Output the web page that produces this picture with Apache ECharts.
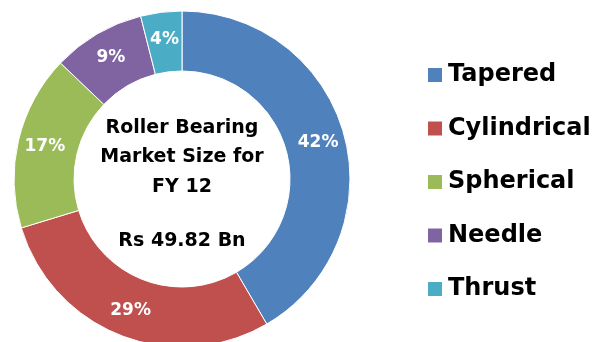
<!DOCTYPE html>
<html>
<head>
<meta charset="utf-8">
<script src="https://cdn.jsdelivr.net/npm/echarts@6/dist/echarts.min.js"></script>
<style>
  html, body { margin: 0; padding: 0; background: #fff; }
  #chart { width: 596px; height: 342px; }
</style>
</head>
<body>
<div id="chart"></div>
<script>
// Roller bearing market share by type, FY 12
const categories = ['Tapered', 'Cylindrical', 'Spherical', 'Needle', 'Thrust'];
const shares = [42, 29, 17, 9, 4];
const colors = ['#4F81BD', '#C0504D', '#9BBB59', '#8064A2', '#4BACC6'];
const centerLines = ['Roller Bearing', 'Market Size for', 'FY 12', 'Rs 49.82 Bn'];
const centerLineY = [128, 157.5, 187, 241];

const FONT = '"DejaVu Sans", Verdana, sans-serif';
const CX = 182, CY = 179;
const chart = echarts.init(document.getElementById('chart'));

chart.setOption({
  animation: false,
  color: colors,
  legend: {
    orient: 'vertical',
    left: 421,
    top: 58,
    itemWidth: 16,
    itemHeight: 16,
    itemGap: 29.5,
    icon: 'rect',
    textStyle: { fontFamily: FONT, fontWeight: 'bold', fontSize: 24, lineHeight: 24, color: '#000' },
    data: categories
  },
  graphic: centerLines.map((t, i) => ({
    type: 'text',
    x: CX,
    y: centerLineY[i],
    style: {
      text: t,
      align: 'center',
      verticalAlign: 'middle',
      fontFamily: FONT,
      fontWeight: 'bold',
      fontSize: 19,
      fill: '#000'
    }
  })),
  series: [{
    type: 'pie',
    center: [CX, CY],
    radius: [108, 168],
    startAngle: 90,
    clockwise: true,
    avoidLabelOverlap: false,
    itemStyle: { borderColor: '#fff', borderWidth: 1 },
    label: {
      show: true,
      position: 'inside',
      formatter: p => p.value + '%',
      fontFamily: FONT,
      fontWeight: 'bold',
      fontSize: 17,
      color: '#fff'
    },
    labelLine: { show: false },
    data: categories.map((c, i) => ({ name: c, value: shares[i] }))
  }]
});
</script>
</body>
</html>
